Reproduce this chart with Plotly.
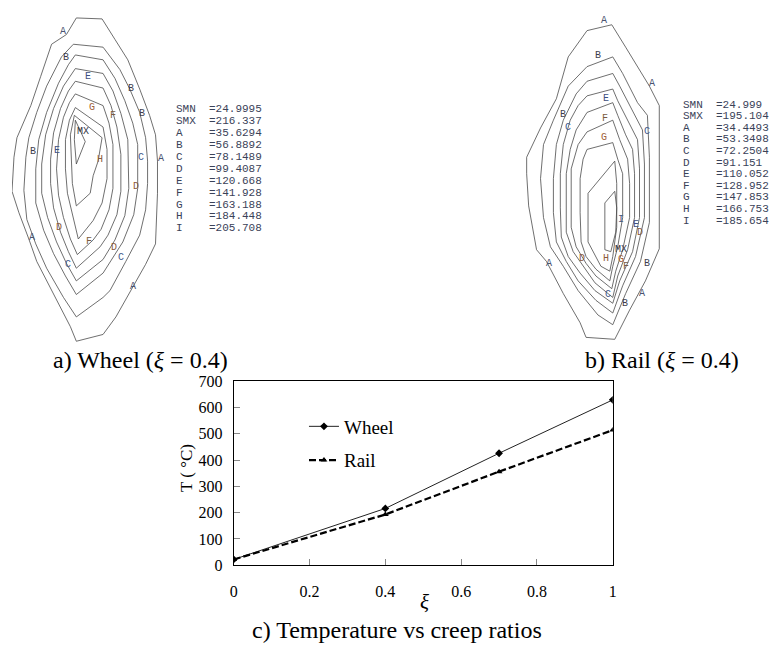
import plotly.graph_objects as go

# ---------------- line chart data ----------------
xi = [0, 0.4, 0.7, 1.0]
wheel_T = [22, 216, 426, 629]
rail_T = [22, 193, 356, 514]
y_ticks = [0, 100, 200, 300, 400, 500, 600, 700]
x_ticks = [0, 0.2, 0.4, 0.6, 0.8, 1.0]
x_ticklabels = ["0", "0.2", "0.4", "0.6", "0.8", "1"]

# ---------------- contour key values ----------------
key_names = ["SMN", "SMX", "A", "B", "C", "D", "E", "F", "G", "H", "I"]
wheel_key_values = ["24.9995", "216.337", "35.6294", "56.8892", "78.1489", "99.4087",
                    "120.668", "141.928", "163.188", "184.448", "205.708"]
rail_key_values = ["24.999", "195.104", "34.4493", "53.3498", "72.2504", "91.151",
                   "110.052", "128.952", "147.853", "166.753", "185.654"]

# ---------------- wheel contour lines (image px frame) ----------------
wheel_A = [(73,10),(99,11),(112,32),(125,53),(137,83),(147,110),(153,130),(155,157),(155,190),(153,242),(143,263),(130,287),(113,317),(100,335),(73,342),(67,327),(50,293),(33,260),(25,237),(15,210),(8,188),(10,153),(13,133),(27,100),(37,70),(48,37),(63,27),(73,10)]
wheel_B = [(70,37),(100,40),(117,63),(127,83),(137,107),(143,133),(145,157),(145,180),(143,207),(137,233),(123,260),(107,290),(100,297),(73,317),(60,297),(43,267),(32,242),(23,217),(20,187),(22,153),(25,133),(33,107),(43,80),(58,50),(70,37)]
wheel_C = [(72,48),(100,53),(112,72),(122,95),(130,118),(135,140),(135,185),(131,212),(120,240),(105,265),(100,272),(73,294),(62,275),(50,252),(40,228),(32,200),(32,165),(35,135),(43,107),(55,77),(65,58),(72,48)]
wheel_D = [(72,62),(100,67),(110,85),(118,108),(125,135),(126,185),(122,213),(112,238),(100,258),(73,280),(63,262),(53,240),(44,215),(38,190),(38,160),(42,130),(50,103),(60,80),(72,62)]
wheel_E = [(72,75),(100,82),(108,100),(114,122),(118,150),(118,188),(114,212),(105,233),(97,245),(73,267),(65,250),(57,230),(50,205),(47,180),(47,155),(50,128),(57,103),(65,85),(72,75)]
wheel_F = [(72,88),(100,100),(106,118),(110,140),(110,185),(106,207),(98,227),(90,238),(74,253),(67,237),(60,215),(55,192),(53,165),(55,135),(60,112),(66,97),(72,88)]
wheel_G = [(72,102),(100,122),(104,145),(104,175),(99,200),(90,218),(75,237),(70,215),(64,190),(62,165),(62,135),(66,115),(72,102)]
wheel_H = [(71,110),(99,133),(95,157),(90,172),(87,190),(73,203),(69,180),(68,155),(67,130),(71,110)]
wheel_MX = [(72,115),(82,137),(73,160),(71,135),(72,115)]
wheel_contours = [wheel_A, wheel_B, wheel_C, wheel_D, wheel_E, wheel_F, wheel_G, wheel_H, wheel_MX]

wheel_labels = ["A","B","E","B","B","G","F","MX","B","E","H","C","A","D","D","A","F","D","C","C","A"]
wheel_label_pos = [(60,24),(63,51),(85,70),(128,82),(139,108),(89,102),(110,110),(80,127),(29,147),(53,146),
                   (97,155),(138,153),(159,154),(133,183),(55,225),(28,235),(86,240),(111,246),(118,256),(65,263),(130,286)]

# ---------------- rail contour lines ----------------
rail_A = [(589,23),(614,17),(628,40),(642,63),(652,80),(662,100),(662,153),(662,247),(648,280),(632,310),(617,340),(588,338),(582,323),(565,293),(548,260),(538,248),(530,203),(528,170),(528,153),(542,123),(558,93),(570,50),(589,23)]
rail_B = [(589,60),(615,50),(625,67),(640,97),(650,110),(652,153),(652,220),(643,260),(628,293),(615,325),(600,315),(580,290),(565,265),(552,245),(545,215),(542,175),(545,140),(555,115),(570,80),(589,60)]
rail_C = [(589,75),(615,67),(622,80),(635,105),(645,125),(647,160),(647,215),(638,255),(625,285),(615,313),(598,300),(580,280),(568,260),(558,240),(555,210),(555,175),(558,140),(565,115),(578,88),(589,75)]
rail_D = [(589,90),(615,83),(620,95),(630,115),(640,135),(642,165),(642,215),(635,250),(622,280),(615,303),(597,290),(582,272),(570,255),(563,235),(562,205),(562,170),(565,140),(572,115),(580,100),(589,90)]
rail_E = [(589,107),(615,97),(620,110),(628,130),(635,145),(637,170),(637,215),(630,248),(620,275),(615,297),(597,282),(585,265),(575,250),(568,230),(568,200),(568,170),(572,145),(578,125),(589,107)]
rail_F = [(589,127),(615,115),(622,135),(630,155),(632,180),(632,215),(625,248),(618,270),(614,288),(598,275),(588,262),(578,245),(573,225),(573,195),(573,165),(580,140),(589,127)]
rail_G = [(589,145),(615,138),(620,155),(625,170),(625,215),(620,245),(615,265),(612,280),(598,268),(588,255),(583,240),(582,210),(582,175),(585,155),(589,145)]
rail_H = [(617,157),(619,180),(619,225),(615,255),(612,270),(603,265),(590,240),(590,215),(590,190),(617,157)]
rail_I = [(617,188),(619,205),(618,230),(613,250),(607,248),(607,220),(607,200),(617,188)]
rail_contours = [rail_A, rail_B, rail_C, rail_D, rail_E, rail_F, rail_G, rail_H, rail_I]

rail_labels = ["A","A","B","E","B","C","F","C","G","I","E","D","MX","H","G","F","B","D","A","A","C","B"]
rail_label_pos = [(606,13),(655,77),(600,49),(608,93),(565,109),(570,122),(607,113),(650,127),(606,133),(623,217),
                  (638,222),(642,230),(623,248),(608,257),(623,258),(628,265),(650,262),(584,257),(551,262),(645,293),(610,294),(627,303)]

# ---------------- styles / page geometry ----------------
W, H = 780, 650
OFF = 8  # the page body offsets the figure by 8 px


def px(x):
    return (x - OFF) / W


def py(y):
    return 1 - (y - OFF) / H


SERIF = "Liberation Serif, Times New Roman, serif"
MONO = "Liberation Mono, Courier New, monospace"
label_colors = {"A": "#4a5470", "B": "#3d3d4d", "C": "#3e5a8c", "D": "#8a5a3c", "E": "#3e5080",
                "F": "#7a5a40", "G": "#a0603a", "H": "#8a5a3c", "I": "#4a5a80", "MX": "#333344"}
KEY_COLOR = "#3a4258"

fig = go.Figure()

for poly in wheel_contours:
    fig.add_trace(go.Scatter(x=[p[0] for p in poly], y=[p[1] for p in poly], mode="lines",
                             line=dict(color="#4a4a4a", width=0.8), hoverinfo="skip",
                             showlegend=False, xaxis="x2", yaxis="y2"))
for poly in rail_contours:
    fig.add_trace(go.Scatter(x=[p[0] for p in poly], y=[p[1] for p in poly], mode="lines",
                             line=dict(color="#4a4a4a", width=0.8), hoverinfo="skip",
                             showlegend=False, xaxis="x3", yaxis="y3"))

annotations = []
for lab, (lx, ly) in zip(wheel_labels, wheel_label_pos):
    annotations.append(dict(x=lx, y=ly, xref="x2", yref="y2", text=lab, showarrow=False,
                            xanchor="center", yanchor="middle",
                            font=dict(family=MONO, size=10, color=label_colors[lab])))
for lab, (lx, ly) in zip(rail_labels, rail_label_pos):
    annotations.append(dict(x=lx, y=ly, xref="x3", yref="y3", text=lab, showarrow=False,
                            xanchor="center", yanchor="middle",
                            font=dict(family=MONO, size=10, color=label_colors[lab])))

# contour keys: name column and "=value" column
for x0, y0, dy, values in [(172, 104, 12.2, wheel_key_values), (684, 99, 11.9, rail_key_values)]:
    for i, (n, v) in enumerate(zip(key_names, values)):
        annotations.append(dict(x=px(x0), y=py(y0 + i * dy), xref="paper", yref="paper", text=n,
                                showarrow=False, xanchor="left", yanchor="middle",
                                font=dict(family=MONO, size=11, color=KEY_COLOR)))
        annotations.append(dict(x=px(x0 + 33), y=py(y0 + i * dy), xref="paper", yref="paper", text="=" + v,
                                showarrow=False, xanchor="left", yanchor="middle",
                                font=dict(family=MONO, size=11, color=KEY_COLOR)))

# line chart
fig.add_trace(go.Scatter(x=xi, y=wheel_T, mode="lines+markers", name="Wheel",
                         line=dict(color="#222222", width=1),
                         marker=dict(symbol="diamond", size=6, color="black"),
                         legendgroup="w"))
fig.add_trace(go.Scatter(x=xi, y=rail_T, mode="lines+markers", name="Rail",
                         line=dict(color="black", width=2.2, dash="7px,3px"),
                         marker=dict(symbol="triangle-up", size=6, color="black"),
                         legendgroup="r"))

annotations += [
    dict(x=px(138), y=py(361), xref="paper", yref="paper", text="a) Wheel (<i>ξ</i> = 0.4)",
         showarrow=False, xanchor="center", yanchor="middle", font=dict(family=SERIF, size=24, color="black")),
    dict(x=px(665), y=py(361), xref="paper", yref="paper", text="b) Rail (<i>ξ</i> = 0.4)",
         showarrow=False, xanchor="center", yanchor="middle", font=dict(family=SERIF, size=24, color="black")),
    dict(x=px(397), y=py(638), xref="paper", yref="paper", text="c) Temperature vs creep ratios",
         showarrow=False, xanchor="center", yanchor="middle", font=dict(family=SERIF, size=24, color="black")),
    dict(x=px(425), y=py(610), xref="paper", yref="paper", text="<i>ξ</i>",
         showarrow=False, xanchor="center", yanchor="middle", font=dict(family=SERIF, size=21, color="black")),
    dict(x=px(185), y=py(472), xref="paper", yref="paper", text="T ( °C)", textangle=-90,
         showarrow=False, xanchor="center", yanchor="middle", font=dict(family=SERIF, size=17, color="black")),
]

fig.update_layout(
    width=W, height=H,
    margin=dict(l=0, r=0, t=0, b=0),
    paper_bgcolor="white", plot_bgcolor="white",
    showlegend=True,
    legend=dict(x=px(303), y=py(410), xanchor="left", yanchor="top",
                bgcolor="rgba(0,0,0,0)", font=dict(family=SERIF, size=19, color="black"),
                traceorder="grouped", tracegroupgap=6),
    xaxis=dict(domain=[px(232), px(615)], range=[0, 1], tickvals=x_ticks, ticktext=x_ticklabels,
               ticks="inside", ticklen=6, tickcolor="#888888", showgrid=False, zeroline=False,
               showline=True, linecolor="black", linewidth=1, mirror=True, ticklabelstandoff=12,
               tickfont=dict(family=SERIF, size=16, color="black"), anchor="y"),
    yaxis=dict(domain=[py(572), py(383)], range=[0, 700], tickvals=y_ticks,
               ticks="inside", ticklen=6, tickcolor="#888888", showgrid=False, zeroline=False,
               showline=True, linecolor="black", linewidth=1, mirror=True, ticklabelstandoff=7,
               tickfont=dict(family=SERIF, size=16, color="black"), anchor="x"),
    xaxis2=dict(domain=[0, 200 / W], range=[OFF, OFF + 200], visible=False, anchor="y2"),
    yaxis2=dict(domain=[1 - 350 / H, 1], range=[OFF + 350, OFF], visible=False, anchor="x2"),
    xaxis3=dict(domain=[500 / W, 700 / W], range=[OFF + 500, OFF + 700], visible=False, anchor="y3"),
    yaxis3=dict(domain=[1 - 350 / H, 1], range=[OFF + 350, OFF], visible=False, anchor="x3"),
    annotations=annotations,
)

fig.write_html("out.html")
